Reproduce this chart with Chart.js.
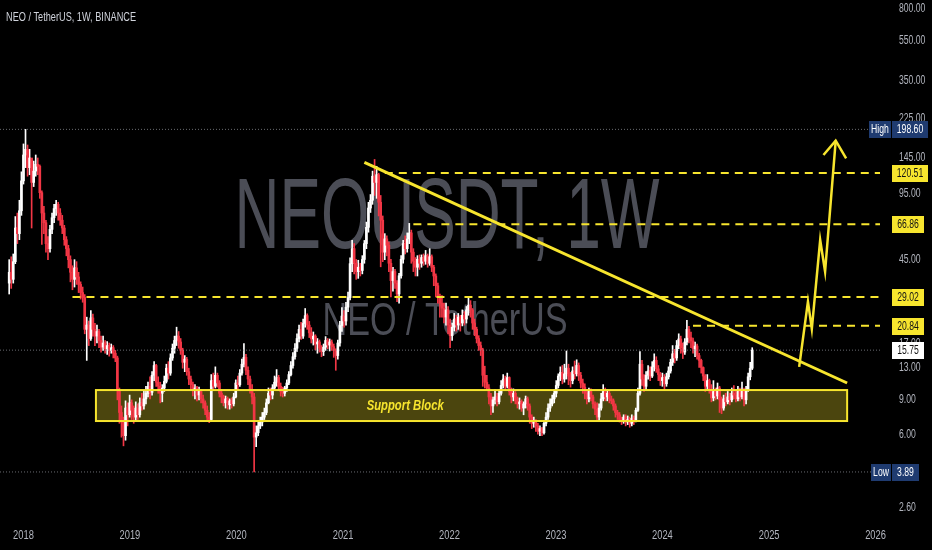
<!DOCTYPE html>
<html>
<head>
<meta charset="utf-8">
<script src="https://cdn.jsdelivr.net/npm/chart.js@4.4.0/dist/chart.umd.min.js"></script>
<style>
  html, body { margin: 0; padding: 0; background: #000; }
</style>
</head>
<body>
<canvas id="chart" width="932" height="550"></canvas>
<script>
// weekly candles, first week starts 2017-11-13
const startDate = Date.UTC(2017, 10, 13);
const firstOpen = 34;

const closes = [
  38.5, 35.5, 43.5, 64, 60, 78, 110, 148, 158, 128,
  143, 108, 123, 133, 130, 96, 76, 68, 53.5, 50.5,
  63, 72, 80, 84, 76, 70, 64, 56, 50.5, 44.5,
  38.5, 35.5, 40.5, 36.5, 33.5, 30.5, 28.8, 20, 21, 18,
  22.8, 20, 18.5, 19.5, 17.6, 16.3, 17.1, 16, 16.6, 15.7,
  16.2, 15.2, 14.4, 9.9, 7.7, 6.9, 5.9, 8.1, 7.5, 8.6,
  7.9, 7.3, 8.1, 7.5, 8.6, 8.3, 9.0, 9.6, 10.4, 9.7,
  11.8, 13.2, 10.9, 10.4, 9.6, 10.2, 11.0, 12.8, 12.1, 14.4,
  16.1, 17.6, 18.5, 17.3, 15.7, 13.7, 14.2, 12.3, 11.3, 10.6,
  9.9, 10.2, 9.4, 9.8, 9.0, 8.6, 7.9, 7.3, 7.1, 11.1,
  10.4, 11.8, 10.8, 9.6, 9.2, 8.6, 9.0, 8.4, 8.8, 8.5,
  9.2, 10.8, 10.6, 12.1, 13.4, 14.5, 12.5, 11.3, 10.0, 9.2,
  5.8, 6.1, 6.6, 6.9, 7.3, 7.7, 8.6, 9.6, 9.4, 10.2,
  10.9, 11.5, 10.4, 9.8, 9.6, 10.2, 10.8, 11.9, 13.2, 14.6,
  16.1, 18.0, 20.0, 18.5, 21.4, 23.4, 21.0, 19.2, 17.9, 18.5,
  16.9, 17.3, 16.1, 15.5, 16.3, 17.6, 16.7, 17.3, 16.4, 15.7,
  14.8, 17.1, 20.9, 23.3, 22.0, 25.8, 28.8, 42.5, 50.5, 42.7,
  38.8, 40.8, 39.3, 44.6, 53.5, 64.5, 80.5, 88, 116, 108,
  118, 86, 70, 48.5, 56.5, 52.5, 42.7, 35, 38.8, 34,
  30, 37, 44.7, 53.5, 50.5, 56.5, 60.5, 48.5, 43.7, 40.8,
  44.7, 42.7, 45.6, 43.7, 46.6, 42.7, 46, 40.8, 36.9, 33,
  29, 27, 25.5, 23, 25, 21, 18.6, 20.5, 22.5, 21,
  23, 21.5, 23.5, 22.5, 25, 26.4, 25, 21.5, 20, 18,
  16.6, 15.8, 11.8, 10.9, 10.2, 9.2, 8.3, 8.9, 9.2, 8.7,
  9.6, 10.5, 11.3, 10.4, 11.5, 9.8, 9.2, 9.6, 8.8, 8.5,
  8.7, 8.1, 8.5, 9.0, 8.3, 7.3, 6.8, 7.0, 6.6, 6.2,
  6.4, 6.1, 6.8, 7.3, 8.1, 8.5, 9.0, 9.6, 10.5, 11.7,
  12.2, 11.3, 12.0, 12.8, 11.7, 11.1, 12.4, 12.0, 13.2, 11.8,
  10.8, 10.3, 9.6, 9.0, 9.8, 9.2, 8.5, 8.0, 7.3, 8.1,
  9.0, 9.8, 9.2, 9.6, 9.0, 8.8, 8.3, 7.7, 7.5, 7.1,
  7.0, 7.3, 6.9, 7.1, 6.8, 7.2, 7.0, 7.9, 9.6, 13.4,
  11.3, 10.4, 11.8, 12.4, 11.7, 13.0, 14.0, 12.7, 11.9, 11.1,
  11.5, 10.7, 11.6, 12.4, 13.7, 15.1, 14.4, 16.6, 17.9, 16.2,
  15.4, 17.3, 20.0, 18.2, 17.5, 16.0, 16.5, 14.8, 14.0, 12.9,
  11.7, 10.4, 11.1, 10.0, 9.1, 9.8, 9.3, 10.2, 8.9, 8.1,
  9.0, 8.7, 9.2, 8.9, 9.6, 9.4, 9.0, 9.8, 9.2, 10.0,
  8.9, 10.0, 11.6, 12.8, 15.75
];

const highs = [
  44.5, 46, 47.5, 73, 76, 88, 122, 168, 198.6, 166,
  158, 133, 138, 148, 143, 132, 98, 82, 70, 58,
  66, 76, 84, 88, 86, 80, 74, 66, 58, 52.5,
  46.5, 41.5, 44.5, 43.5, 38.5, 34.5, 32.5, 29.8, 23, 22,
  24.8, 23.8, 21.4, 21, 20, 18.5, 18.5, 17.6, 17.4, 17.1,
  16.9, 16.6, 15.7, 14.7, 10.2, 8.3, 7.3, 8.8, 8.6, 9.4,
  8.9, 8.3, 8.7, 8.5, 9.1, 9.6, 9.9, 10.4, 10.9, 11.6,
  12.3, 13.8, 13.4, 11.6, 10.9, 10.6, 11.7, 13.4, 13.8, 15.1,
  16.9, 18.5, 20.5, 19.5, 18.0, 16.1, 14.8, 14.5, 12.8, 11.7,
  10.9, 10.6, 10.4, 10.3, 10.0, 9.4, 8.8, 8.3, 7.7, 11.9,
  12.1, 13.0, 12.1, 11.1, 10.0, 9.4, 9.3, 9.2, 9.0, 9.1,
  9.6, 11.2, 11.7, 12.6, 14.2, 17.0, 15.0, 13.0, 11.7, 10.6,
  9.6, 6.6, 7.0, 7.3, 7.7, 8.1, 9.0, 10.2, 10.2, 10.6,
  11.7, 12.6, 11.8, 10.8, 10.3, 10.4, 11.2, 12.3, 13.8, 15.3,
  17.0, 19.0, 21.0, 21.7, 22.5, 25.4, 23.9, 21.9, 20.4, 19.4,
  18.8, 18.0, 17.7, 16.6, 16.9, 18.4, 18.0, 17.9, 17.7, 16.9,
  16.0, 17.7, 21.9, 25.7, 24.8, 27.3, 30.7, 45.5, 55.5, 53.5,
  44.6, 44.2, 42.7, 46.6, 55.5, 68.5, 86, 94, 123, 140.6,
  130, 120, 93, 73.5, 60, 58.5, 54.5, 44.7, 40.8, 39.8,
  35, 38, 46.6, 55.5, 58.5, 60.5, 67.5, 62.5, 50.5, 45.6,
  46.6, 47, 47, 47.5, 49.5, 47.5, 50.5, 47, 41.7, 37.8,
  34, 30, 29.5, 27, 27, 26, 22.5, 21.5, 24, 23.5,
  24, 23.5, 25, 24.5, 26, 28.8, 27.8, 25.4, 22.5, 20.5,
  18.6, 17.3, 16.1, 13.1, 11.8, 10.6, 9.6, 9.2, 10.0, 9.6,
  10.0, 11.1, 11.9, 11.7, 12.1, 11.6, 10.2, 10.1, 9.8, 9.2,
  9.1, 8.9, 8.7, 9.3, 9.2, 8.5, 7.5, 7.3, 7.1, 6.8,
  6.6, 6.5, 7.0, 7.7, 8.5, 9.0, 9.4, 10.0, 11.1, 12.0,
  13.0, 13.2, 13.4, 15.6, 13.4, 12.2, 13.0, 13.9, 14.1, 13.6,
  12.2, 11.3, 10.7, 10.0, 10.2, 10.1, 9.4, 8.7, 8.6, 8.5,
  9.6, 10.6, 10.2, 10.0, 9.8, 9.3, 9.0, 8.5, 7.9, 7.7,
  7.3, 7.5, 7.5, 7.4, 7.3, 7.5, 7.4, 8.1, 10.2, 15.5,
  14.0, 11.9, 12.3, 13.2, 13.0, 13.8, 15.1, 14.6, 13.2, 12.2,
  12.1, 11.9, 12.1, 13.0, 14.2, 16.6, 15.9, 17.6, 19.0, 18.5,
  17.1, 18.0, 22.2, 20.7, 19.4, 18.1, 17.3, 16.9, 15.2, 14.2,
  13.0, 11.9, 11.9, 11.3, 10.6, 11.1, 10.2, 10.8, 10.4, 9.2,
  9.4, 9.6, 9.8, 9.6, 10.2, 10.5, 10.0, 10.4, 10.2, 10.9,
  10.2, 10.4, 12.1, 13.7, 16.2
];

const lows = [
  30, 32, 34, 42.5, 53.5, 56, 74, 106, 128, 116,
  118, 64, 103, 116, 118, 90, 53, 60, 48.5, 44.5,
  48.5, 60, 68, 74, 70, 66, 60, 52.5, 46.5, 40.5,
  34.5, 31.5, 32.5, 33.5, 30.5, 28.3, 27.3, 19, 14, 16.6,
  17.6, 18.5, 16.6, 17.1, 16.2, 15.4, 15.7, 15.2, 15, 14.7,
  15.2, 14.4, 13.8, 8.9, 6.8, 5.8, 5.25, 5.6, 6.6, 7.3,
  7.1, 6.8, 7.0, 7.1, 7.3, 7.9, 8.0, 8.5, 9.2, 9.0,
  9.4, 11.1, 10.4, 9.6, 8.6, 8.7, 9.8, 10.8, 11.3, 11.8,
  14.0, 15.2, 16.6, 16.1, 15.0, 12.8, 12.3, 11.8, 10.6, 9.9,
  9.3, 9.0, 8.8, 8.9, 8.6, 8.1, 7.5, 7.0, 6.85, 6.95,
  9.9, 10.2, 10.3, 9.2, 8.6, 8.3, 8.1, 8.0, 8.0, 8.1,
  8.3, 9.1, 10.0, 10.4, 11.8, 13.0, 11.9, 10.6, 9.6, 8.5,
  3.89, 5.2, 5.9, 6.4, 6.6, 7.1, 7.5, 8.5, 8.9, 9.0,
  9.9, 10.4, 10.0, 9.3, 9.2, 9.3, 9.8, 10.6, 11.7, 12.8,
  14.2, 15.5, 17.3, 17.8, 18.0, 20.5, 20.0, 18.2, 17.1, 16.7,
  15.8, 15.2, 15.4, 14.6, 14.8, 15.7, 16.0, 15.6, 15.7, 14.5,
  12.5, 14.2, 16.5, 19.5, 20.5, 21.0, 24.5, 28.0, 38.8, 37.8,
  35.5, 35.9, 36.9, 37.8, 42.7, 50.5, 61, 76.5, 84, 93,
  90, 73.5, 41, 43.5, 44.5, 46.5, 38.8, 29, 31, 32,
  27.5, 27, 36, 42.7, 47.5, 48.5, 53.5, 42.7, 38.8, 36.9,
  36.9, 39.8, 40.8, 41.7, 42.2, 40.8, 41.7, 38.8, 33, 29,
  27, 23, 23, 21.5, 21, 19, 16.2, 17.6, 19.6, 19.6,
  20, 19.6, 20.8, 21, 21.5, 23.5, 23, 20, 18.6, 17.1,
  15.7, 14.8, 10.4, 10.2, 9.9, 8.5, 7.5, 7.7, 8.5, 8.3,
  8.5, 9.4, 10.2, 10.0, 10.2, 9.4, 8.6, 8.8, 8.5, 8.1,
  8.0, 7.8, 7.5, 8.1, 7.9, 6.8, 6.4, 6.5, 6.2, 6.0,
  5.9, 5.9, 6.0, 6.6, 7.1, 7.8, 8.3, 8.6, 9.2, 10.2,
  11.1, 10.7, 10.9, 11.3, 10.6, 10.3, 10.7, 11.3, 11.7, 11.1,
  10.2, 9.6, 9.0, 8.5, 8.7, 8.8, 8.1, 7.5, 7.0, 7.0,
  7.9, 8.8, 8.8, 8.8, 8.6, 8.5, 7.9, 7.3, 7.1, 6.9,
  6.7, 6.8, 6.6, 6.7, 6.5, 6.6, 6.7, 6.9, 7.8, 9.4,
  10.5, 9.8, 10.0, 11.3, 11.1, 11.5, 12.4, 12.2, 11.1, 10.5,
  10.4, 10.0, 10.4, 11.3, 12.1, 13.2, 13.6, 14.0, 16.0, 15.2,
  14.3, 15.0, 16.7, 17.1, 16.2, 15.2, 14.6, 14.2, 12.9, 12.1,
  11.1, 9.8, 10.0, 9.6, 8.7, 8.8, 8.9, 9.0, 7.7, 7.6,
  7.9, 8.3, 8.5, 8.4, 8.7, 9.0, 8.7, 8.8, 8.8, 9.0,
  8.3, 8.5, 9.8, 11.2, 12.6
];

const yearLabels = ['2018', '2019', '2020', '2021', '2022', '2023', '2024', '2025', '2026'];
const priceTicks = [800, 550, 350, 225, 145, 95, 45, 17, 13, 9, 6, 2.6];

// drawn levels (price) and the week each dashed line starts from
const levelPrices = [120.51, 66.86, 29.02, 20.84];
const levelFrom = [184, 198, 31, 335];

const allTimeHigh = 198.6;
const allTimeLow = 3.89;
const lastPrice = 15.75;

// descending trend line (week, price)
const trendWeeks = [174, 410.5];
const trendPrices = [136, 10.8];

// projected zigzag path and its arrow head (week, price)
const pathWeeks = [387.0, 391.3, 393.2, 397.3, 399.7, 404.9];
const pathPrices = [13.0, 27.5, 20.1, 55.8, 38.8, 174.4];
const headWeeks = [398.9, 404.9, 410.0];
const headPrices = [148, 174.4, 142.5];

// support block: week range and price range
const blockWeeks = [42.5, 410.5];
const blockPrices = [6.98, 9.96];

const YELLOW = '#f7e52e';
const UP = '#ffffff';
const DOWN = '#f23645';
const AXIS_TEXT = '#b2b5be';
const BLUE = '#1f3b70';
const SANS = '"Liberation Sans", Arial, sans-serif';
const NARROW = 0.72; // the screenshot's text is strongly condensed

const weekMs = 7 * 864e5;
const yearPos = yearLabels.map(y => (Date.UTC(+y, 0, 1) - startDate) / weekMs);
const opens = closes.map((c, i) => (i === 0 ? firstOpen : closes[i - 1]));
const candleColors = closes.map((c, i) => (c >= opens[i] ? UP : DOWN));

const xMin = -4.5, xMax = 426.6;

function hline(price, from, color, dash, width) {
  return {
    type: 'line',
    data: [{ x: from, y: price }, { x: xMax, y: price }],
    borderColor: color, borderWidth: width, borderDash: dash,
    pointRadius: 0, order: 1
  };
}

function narrowText(ctx, text, x, y) {
  ctx.fillText(text, x, y, ctx.measureText(text).width * NARROW);
}

function tagWidth(ctx, text, pad) {
  ctx.font = '12px ' + SANS;
  return Math.round(ctx.measureText(text).width * NARROW) + pad;
}

function tag(ctx, left, y, w, text, bg, fg) {
  const top = Math.round(y) - 8;
  ctx.fillStyle = bg;
  ctx.fillRect(left, top, w, 17);
  ctx.fillStyle = fg;
  ctx.font = '12px ' + SANS;
  ctx.textAlign = 'center';
  ctx.textBaseline = 'middle';
  narrowText(ctx, text, left + w / 2, top + 9);
}

const decor = {
  id: 'decor',
  beforeDraw(chart) {
    const ctx = chart.ctx;
    ctx.save();
    ctx.fillStyle = '#000000';
    ctx.fillRect(0, 0, chart.width, chart.height);
    ctx.restore();
  },
  beforeDatasetsDraw(chart) {
    const ctx = chart.ctx;
    const xs = chart.scales.x, ys = chart.scales.y;
    ctx.save();
    // watermarks
    ctx.fillStyle = '#4b4d56';
    ctx.textAlign = 'center';
    ctx.textBaseline = 'alphabetic';
    ctx.font = '101px ' + SANS;
    ctx.fillText('NEOUSDT, 1W', 447, 248, 425);
    ctx.font = '46px ' + SANS;
    ctx.fillText('NEO / TetherUS', 445, 335, 245);
    // support block fill
    const x0 = xs.getPixelForValue(blockWeeks[0]);
    const x1 = xs.getPixelForValue(blockWeeks[1]);
    const y0 = ys.getPixelForValue(blockPrices[1]);
    const y1 = ys.getPixelForValue(blockPrices[0]);
    ctx.fillStyle = 'rgba(247, 229, 46, 0.3)';
    ctx.fillRect(x0, y0, x1 - x0, y1 - y0);
    ctx.restore();
  },
  afterDatasetsDraw(chart) {
    const ctx = chart.ctx;
    const xs = chart.scales.x, ys = chart.scales.y;
    const x0 = xs.getPixelForValue(blockWeeks[0]);
    const x1 = xs.getPixelForValue(blockWeeks[1]);
    const y0 = ys.getPixelForValue(blockPrices[1]);
    const y1 = ys.getPixelForValue(blockPrices[0]);
    ctx.save();
    ctx.strokeStyle = YELLOW;
    ctx.lineWidth = 2;
    ctx.strokeRect(x0, y0, x1 - x0, y1 - y0);
    ctx.fillStyle = YELLOW;
    ctx.font = 'italic bold 14px ' + SANS;
    ctx.textAlign = 'center';
    ctx.textBaseline = 'middle';
    ctx.fillText('Support Block', xs.getPixelForValue(194), (y0 + y1) / 2 + 1, 77);
    ctx.restore();
  },
  afterDraw(chart) {
    const ctx = chart.ctx;
    const xs = chart.scales.x, ys = chart.scales.y;
    const right = chart.chartArea.right;
    ctx.save();
    // title
    ctx.fillStyle = '#d1d4dc';
    ctx.font = '12px ' + SANS;
    ctx.textAlign = 'left';
    ctx.textBaseline = 'alphabetic';
    ctx.fillText('NEO / TetherUS, 1W, BINANCE', 6, 21, 130);
    // axis labels, placed by the axes' own ticks
    ctx.fillStyle = AXIS_TEXT;
    ctx.font = '13px ' + SANS;
    ctx.textAlign = 'center';
    ctx.textBaseline = 'middle';
    xs.ticks.forEach((t, i) => narrowText(ctx, yearLabels[i], xs.getPixelForValue(t.value), chart.chartArea.bottom + 13));
    ctx.font = '12px ' + SANS;
    ctx.textAlign = 'left';
    ys.ticks.forEach(t => narrowText(ctx, t.value.toFixed(2), right + 19, ys.getPixelForValue(t.value) + 0.5));
    // price tags
    const valLeft = right + 12;
    const hy = ys.getPixelForValue(allTimeHigh);
    const hw = tagWidth(ctx, 'High', 4);
    tag(ctx, valLeft - 1 - hw, hy, hw, 'High', BLUE, '#ffffff');
    tag(ctx, valLeft, hy, tagWidth(ctx, allTimeHigh.toFixed(2), 10), allTimeHigh.toFixed(2), BLUE, '#ffffff');
    levelPrices.forEach(p => {
      const s = p.toFixed(2);
      tag(ctx, valLeft, ys.getPixelForValue(p), tagWidth(ctx, s, 10), s, YELLOW, '#131313');
    });
    const ls = lastPrice.toFixed(2);
    tag(ctx, valLeft, ys.getPixelForValue(lastPrice), tagWidth(ctx, ls, 10), ls, '#ffffff', '#131313');
    const ly = ys.getPixelForValue(allTimeLow);
    const lw = tagWidth(ctx, 'Low', 4);
    tag(ctx, valLeft - 1 - lw, ly, lw, 'Low', BLUE, '#ffffff');
    tag(ctx, valLeft, ly, tagWidth(ctx, allTimeLow.toFixed(2), 10), allTimeLow.toFixed(2), BLUE, '#ffffff');
    ctx.restore();
  }
};

const datasets = [
  {
    type: 'line',
    data: trendWeeks.map((w, i) => ({ x: w, y: trendPrices[i] })),
    borderColor: YELLOW, borderWidth: 3, pointRadius: 0, order: 0
  },
  {
    type: 'line',
    data: pathWeeks.map((w, i) => ({ x: w, y: pathPrices[i] })),
    borderColor: YELLOW, borderWidth: 2.5, pointRadius: 0, borderJoinStyle: 'miter', order: 0
  },
  {
    type: 'line',
    data: headWeeks.map((w, i) => ({ x: w, y: headPrices[i] })),
    borderColor: YELLOW, borderWidth: 2.5, pointRadius: 0, borderJoinStyle: 'miter', order: 0
  },
  ...levelPrices.map((p, i) => hline(p, levelFrom[i], YELLOW, [8, 6], 2)),
  hline(allTimeHigh, xMin, 'rgba(150,152,160,0.7)', [1, 2], 1),
  hline(lastPrice, xMin, 'rgba(150,152,160,0.7)', [1, 2], 1),
  hline(allTimeLow, xMin, 'rgba(150,152,160,0.7)', [1, 2], 1),
  {
    type: 'bar',
    data: closes.map((c, i) => ({ x: i, y: [opens[i], c] })),
    backgroundColor: candleColors,
    borderWidth: 0, barThickness: 2, minBarLength: 1, grouped: false, order: 5
  },
  {
    type: 'bar',
    data: lows.map((l, i) => ({ x: i, y: [l, highs[i]] })),
    backgroundColor: candleColors,
    borderWidth: 0, barThickness: 1, grouped: false, order: 6
  }
];

new Chart(document.getElementById('chart'), {
  type: 'bar',
  data: { datasets },
  options: {
    responsive: false,
    animation: false,
    devicePixelRatio: 1,
    layout: { padding: 0 },
    plugins: { legend: { display: false }, tooltip: { enabled: false } },
    scales: {
      x: {
        type: 'linear', min: xMin, max: xMax, offset: false,
        grid: { display: false, drawTicks: false }, border: { display: false },
        afterBuildTicks: s => { s.ticks = yearPos.map(v => ({ value: v })); },
        afterFit: s => { s.height = 28; },
        ticks: { display: false }
      },
      y: {
        type: 'logarithmic', position: 'right', min: 2.19, max: 877, bounds: 'data',
        grid: { display: false, drawTicks: false }, border: { display: false },
        afterBuildTicks: s => { s.ticks = priceTicks.map(v => ({ value: v })); },
        afterFit: s => { s.width = 52; },
        ticks: { display: false }
      }
    }
  },
  plugins: [decor]
});
</script>
</body>
</html>
